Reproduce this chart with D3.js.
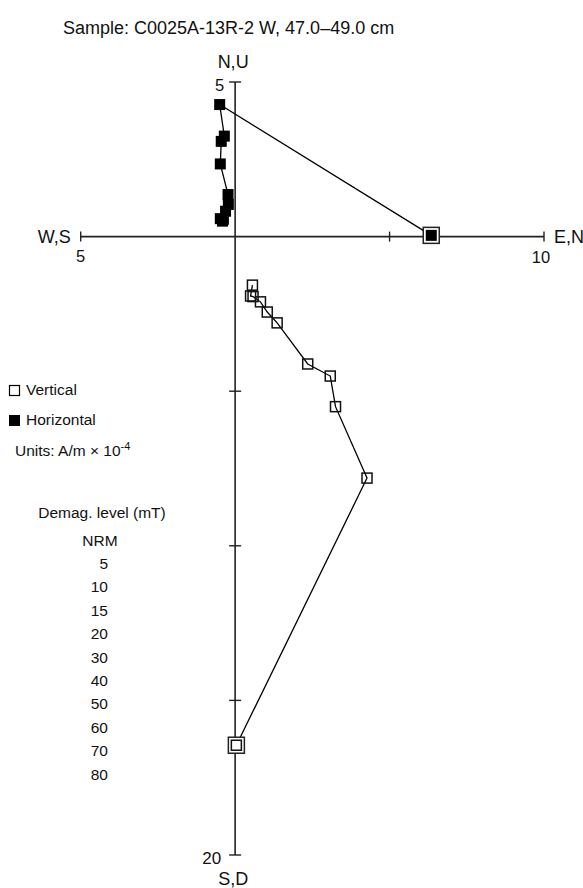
<!DOCTYPE html>
<html>
<head>
<meta charset="utf-8">
<script src="https://cdn.jsdelivr.net/npm/d3@7"></script>
<style>
  body { margin: 0; background: #fff; }
  svg { font-family: "Liberation Sans", Arial, sans-serif; }
</style>
</head>
<body>
<script>
// demag steps (mT), NRM first
var steps = ["NRM", "5", "10", "15", "20", "30", "40", "50", "60", "70", "80"];
// components, A/m x 10^-4
var east  = [6.35, -0.50, -0.35, -0.45, -0.48, -0.23, -0.22, -0.31, -0.48, -0.41, -0.38];
var north = [0.04, 4.27, 3.25, 3.08, 2.35, 1.36, 1.04, 0.82, 0.58, 0.50, 0.56];
var down  = [16.45, 7.81, 5.50, 4.51, 4.12, 2.79, 2.44, 2.11, 1.94, 1.92, 1.57];

var xTicks = [-5, 5, 10];
var yTicks = [5, -5, -10, -15, -20];

var width = 583, height = 888;

var svg = d3.select("body").append("svg")
  .attr("width", width)
  .attr("height", height);

var x = d3.scaleLinear().domain([-5, 10]).range([80.7, 544]);
var y = d3.scaleLinear().domain([5, -20]).range([82, 855]);

var horiz = east.map(function (e, i) { return { x: e, y: north[i], step: steps[i] }; });
var vert = north.map(function (n, i) { return { x: n, y: -down[i], step: steps[i] }; });

var axisColor = "#222";

// axes
svg.append("line")
  .attr("x1", x(-5)).attr("x2", x(10))
  .attr("y1", y(0)).attr("y2", y(0))
  .attr("stroke", axisColor).attr("stroke-width", 1.6);
svg.append("line")
  .attr("x1", x(0)).attr("x2", x(0))
  .attr("y1", y(5)).attr("y2", y(-20))
  .attr("stroke", axisColor).attr("stroke-width", 1.6);

svg.selectAll(".xtick")
  .data(xTicks)
  .enter().append("line")
  .attr("x1", d => x(d)).attr("x2", d => x(d))
  .attr("y1", y(0) - 5).attr("y2", y(0) + 5)
  .attr("stroke", axisColor).attr("stroke-width", 1.4);

svg.selectAll(".ytick")
  .data(yTicks)
  .enter().append("line")
  .attr("x1", x(0) - 6).attr("x2", x(0) + 6)
  .attr("y1", d => y(d)).attr("y2", d => y(d))
  .attr("stroke", axisColor).attr("stroke-width", 1.4);

// text helper
var fs = 15.5;
function label(t, px, py, anchor, size) {
  svg.append("text")
    .attr("x", px).attr("y", py)
    .attr("text-anchor", anchor || "middle")
    .attr("font-size", size || fs)
    .attr("fill", "#111")
    .text(t);
}
// axis names + end values
label("N,U", x(0) - 2, 68, "middle", 18);
label("5", x(0) - 11, y(5) + 9, "end", 16.5);
label("W,S", x(-5) - 10, y(0) + 6, "end", 18);
label("5", x(-5), y(0) + 25, "middle", 16.5);
label("E,N", x(10) + 10, y(0) + 6, "start", 18);
label("10", x(10) - 3, y(0) + 26, "middle", 16.5);
label("20", x(0) - 14, y(-20) + 9, "end", 17);
label("S,D", x(0) - 2, y(-20) + 30, "middle", 18);

label("Sample: C0025A-13R-2 W, 47.0\u201349.0 cm", 63, 34, "start", 18);

// lines
var line = d3.line().x(d => x(d.x)).y(d => y(d.y));

svg.append("path").datum(horiz)
  .attr("d", line).attr("fill", "none")
  .attr("stroke", "#000").attr("stroke-width", 1.3);
svg.append("path").datum(vert)
  .attr("d", line).attr("fill", "none")
  .attr("stroke", "#000").attr("stroke-width", 1.3);

// NRM highlight boxes
svg.selectAll(".nrm")
  .data([horiz[0], vert[0]])
  .enter().append("rect")
  .attr("x", d => x(d.x) - 8).attr("y", d => y(d.y) - 8)
  .attr("width", 16).attr("height", 16)
  .attr("fill", "#fff").attr("stroke", "#222").attr("stroke-width", 1.5);

// vertical projection (open)
svg.selectAll(".v")
  .data(vert)
  .enter().append("rect")
  .attr("x", d => x(d.x) - 5).attr("y", d => y(d.y) - 5)
  .attr("width", 10).attr("height", 10)
  .attr("fill", "none").attr("stroke", "#111").attr("stroke-width", 1.5);

// horizontal projection (filled)
svg.selectAll(".h")
  .data(horiz)
  .enter().append("rect")
  .attr("x", d => x(d.x) - 5.5).attr("y", d => y(d.y) - 5.5)
  .attr("width", 11).attr("height", 11)
  .attr("fill", "#000");

// legend
svg.append("rect").attr("x", 9.5).attr("y", 385.5).attr("width", 10).attr("height", 10)
  .attr("fill", "#fff").attr("stroke", "#000").attr("stroke-width", 1.2);
label("Vertical", 26, 395, "start");
svg.append("rect").attr("x", 9).attr("y", 415).attr("width", 11).attr("height", 11)
  .attr("fill", "#000");
label("Horizontal", 26, 425, "start");

var units = svg.append("text")
  .attr("x", 15).attr("y", 456)
  .attr("font-size", fs).attr("fill", "#111");
units.append("tspan").text("Units: A/m \u00d7 10");
units.append("tspan").attr("dy", -6).attr("font-size", 11).text("-4");

label("Demag. level (mT)", 102, 518);
label(steps[0], 100, 546);
svg.selectAll(".step")
  .data(steps.slice(1))
  .enter().append("text")
  .attr("x", 108)
  .attr("y", (d, i) => 569 + i * 23.4)
  .attr("text-anchor", "end")
  .attr("font-size", fs)
  .attr("fill", "#111")
  .text(d => d);
</script>
</body>
</html>
